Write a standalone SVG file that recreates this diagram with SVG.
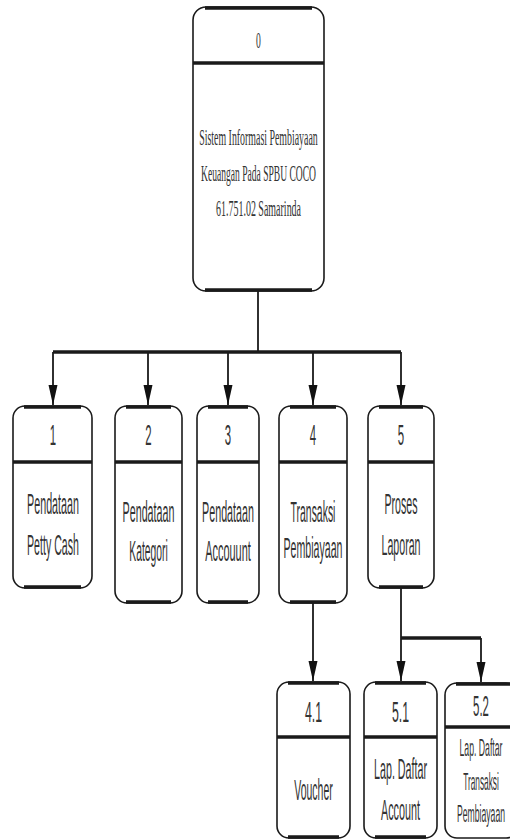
<svg xmlns="http://www.w3.org/2000/svg" width="510" height="840" viewBox="0 0 510 840">
<style>
.box{fill:#fff;stroke:#1a1a1a;stroke-width:1.6}
.edge{stroke:#1a1a1a;stroke-width:3.4;fill:none}
.div{stroke:#1a1a1a;stroke-width:3.4}
.t{font-family:"Liberation Sans",Arial,sans-serif;font-size:30px;fill:#333;text-anchor:middle}
.s{font-family:"Liberation Sans",Arial,sans-serif;font-size:24px;fill:#333;text-anchor:middle}
.ts{font-family:"Liberation Serif","Times New Roman",serif;font-size:23px;fill:#333;text-anchor:middle}
.c{stroke:#1a1a1a;stroke-width:1.8;fill:none}
.bus{stroke:#1a1a1a;stroke-width:3.4;fill:none}
</style>
<defs>
<marker id="ah" markerUnits="userSpaceOnUse" markerWidth="20" markerHeight="10" refX="20" refY="4.5" orient="auto">
<path d="M0,0 L20,4.5 L0,9 Z" fill="#111"/>
</marker>
</defs>
<rect width="510" height="840" fill="#fff"/>

<g id="connectors">
<path class="c" d="M258,291 V352"/>
<path class="bus" d="M53,352 H258"/>
<path class="bus" d="M258,352 H401" stroke-width="3"/>
<path class="c" d="M53,352 V405" marker-end="url(#ah)"/>
<path class="c" d="M148,352 V405" marker-end="url(#ah)"/>
<path class="c" d="M228,352 V405" marker-end="url(#ah)"/>
<path class="c" d="M313,352 V405" marker-end="url(#ah)"/>
<path class="c" d="M401,352 V405" marker-end="url(#ah)"/>
<path class="c" d="M313,603 V681" marker-end="url(#ah)"/>
<path class="c" d="M401,588 V638"/>
<path class="bus" d="M401,638 H481"/>
<path class="c" d="M401,638 V681" marker-end="url(#ah)"/>
<path class="c" d="M481,638 V682" marker-end="url(#ah)"/>
</g>

<g id="node0">
<rect class="box" x="193" y="7" width="131" height="284" rx="13"/>
<path class="edge" d="M205,8 H312 M205,290 H312"/>
<path class="div" d="M193,63 H324"/>
<text class="ts" font-size="38" transform="translate(258.5,48) scale(0.42,1)">0</text>
<text class="ts" transform="translate(258.5,145) scale(0.43,1)">Sistem Informasi Pembiayaan</text>
<text class="ts" transform="translate(258.5,181) scale(0.416,1)">Keuangan Pada SPBU COCO</text>
<text class="ts" transform="translate(258.5,216) scale(0.434,1)">61.751.02 Samarinda</text>
</g>

<g id="node1">
<rect class="box" x="13" y="406" width="79" height="182" rx="12"/>
<path class="edge" d="M24,407 H81 M24,587 H81"/>
<path class="div" d="M13,462 H92"/>
<text class="t" transform="translate(53,445) scale(0.38,1)">1</text>
<text class="t" transform="translate(53,514) scale(0.358,1)">Pendataan</text>
<text class="t" transform="translate(53,555) scale(0.354,1)">Petty Cash</text>
</g>

<g id="node2">
<rect class="box" x="115" y="406" width="67" height="197" rx="12"/>
<path class="edge" d="M126,407 H171 M126,602 H171"/>
<path class="div" d="M115,462 H182"/>
<text class="t" transform="translate(148.5,445) scale(0.38,1)">2</text>
<text class="t" transform="translate(148.5,522) scale(0.358,1)">Pendataan</text>
<text class="t" transform="translate(148.5,561) scale(0.345,1)">Kategori</text>
</g>

<g id="node3">
<rect class="box" x="197" y="406" width="62" height="197" rx="12"/>
<path class="edge" d="M208,407 H248 M208,602 H248"/>
<path class="div" d="M197,462 H259"/>
<text class="t" transform="translate(228,445) scale(0.38,1)">3</text>
<text class="t" transform="translate(228,522) scale(0.358,1)">Pendataan</text>
<text class="t" transform="translate(228,561) scale(0.365,1)">Accouunt</text>
</g>

<g id="node4">
<rect class="box" x="279" y="406" width="68" height="197" rx="12"/>
<path class="edge" d="M290,407 H336 M290,602 H336"/>
<path class="div" d="M279,462 H347"/>
<text class="t" transform="translate(313,445) scale(0.38,1)">4</text>
<text class="t" transform="translate(313,522) scale(0.348,1)">Transaksi</text>
<text class="t" transform="translate(313,558) scale(0.354,1)">Pembiayaan</text>
</g>

<g id="node5">
<rect class="box" x="368" y="406" width="66" height="182" rx="12"/>
<path class="edge" d="M379,407 H423 M379,587 H423"/>
<path class="div" d="M368,462 H434"/>
<text class="t" transform="translate(401,445) scale(0.38,1)">5</text>
<text class="t" transform="translate(401,514) scale(0.355,1)">Proses</text>
<text class="t" transform="translate(401,555) scale(0.355,1)">Laporan</text>
</g>

<g id="node4_1">
<rect class="box" x="277" y="682" width="73" height="156" rx="12"/>
<path class="edge" d="M288,683 H339 M288,837 H339"/>
<path class="div" d="M277,737 H350"/>
<text class="t" transform="translate(313.5,722) scale(0.41,1)">4.1</text>
<text class="t" transform="translate(313.5,800) scale(0.35,1)">Voucher</text>
</g>

<g id="node5_1">
<rect class="box" x="364" y="682" width="73" height="156" rx="12"/>
<path class="edge" d="M375,683 H426 M375,837 H426"/>
<path class="div" d="M364,737 H437"/>
<text class="t" transform="translate(400.5,722) scale(0.41,1)">5.1</text>
<text class="t" transform="translate(400.5,779) scale(0.357,1)">Lap. Daftar</text>
<text class="t" transform="translate(400.5,820) scale(0.36,1)">Account</text>
</g>

<g id="node5_2">
<rect class="box" x="445" y="683" width="73" height="155" rx="12"/>
<path class="edge" d="M456,684 H512"/>
<path class="div" d="M445,727 H518"/>
<text class="t" transform="translate(481,716) scale(0.38,1)">5.2</text>
<text class="s" transform="translate(481,756) scale(0.362,1)">Lap. Daftar</text>
<text class="s" transform="translate(481,790) scale(0.346,1)">Transaksi</text>
<text class="s" transform="translate(481,822) scale(0.36,1)">Pembiayaan</text>
</g>
</svg>
